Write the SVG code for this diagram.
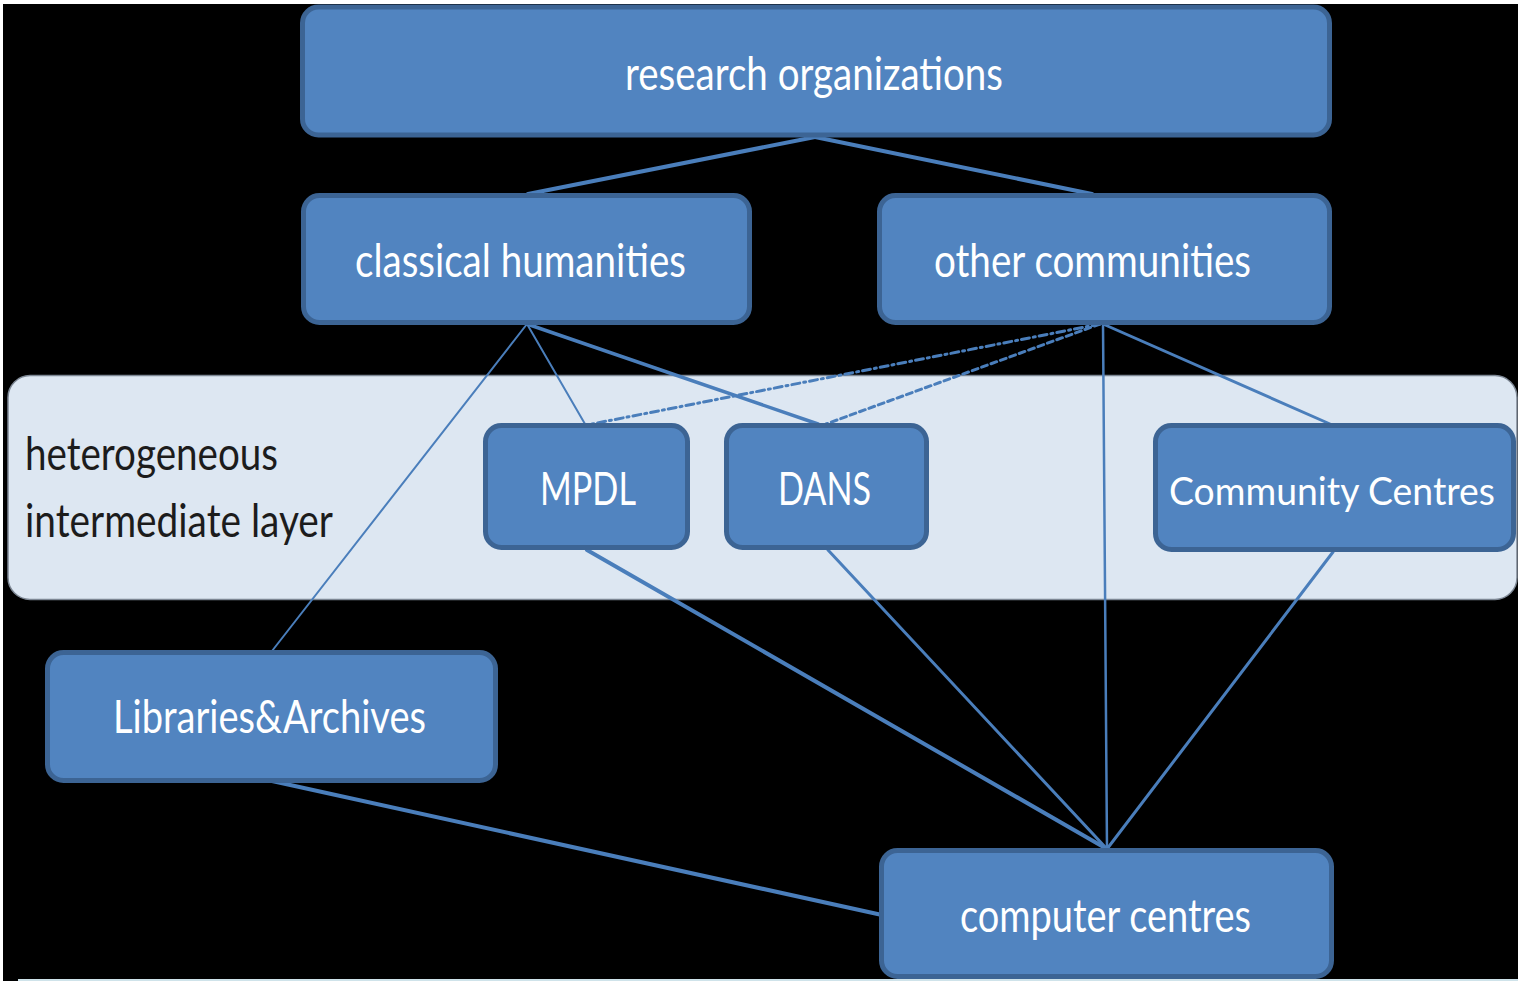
<svg xmlns="http://www.w3.org/2000/svg" width="1518" height="981" viewBox="0 0 1518 981">
  <defs>
    <style>
      .node rect { fill: #5184c0; stroke: #3c6494; stroke-width: 5; }
      .node text { fill: #ffffff; font-family: Lato, "Open Sans", "Liberation Sans", sans-serif; font-size: 46px; text-anchor: middle; }
      .node text.tight { font-size: 39px; }
      .layer-label { fill: #1c1c1c; font-family: Lato, "Open Sans", "Liberation Sans", sans-serif; font-size: 46px; }
      .edge { stroke: #4a7ebb; fill: none; stroke-linecap: round; }
    </style>
  </defs>

  <!-- canvas -->
  <rect x="0" y="0" width="1518" height="981" fill="#000000"/>
  <rect x="0" y="0" width="1518" height="4" fill="#ffffff"/>
  <rect x="0" y="0" width="3" height="981" fill="#ffffff"/>
  <rect x="18" y="979" width="1500" height="2" fill="#cfe3ea"/>

  <!-- intermediate layer band -->
  <g id="intermediate-layer">
    <rect x="8" y="375.5" width="1509" height="224" rx="22" fill="#dde7f2" stroke="#7d8794" stroke-width="1.5"/>
    <text class="layer-label" x="25" y="470" textLength="253" lengthAdjust="spacingAndGlyphs">heterogeneous</text>
    <text class="layer-label" x="25" y="537" textLength="308" lengthAdjust="spacingAndGlyphs">intermediate layer</text>
  </g>

  <!-- connectors -->
  <g id="connectors">
    <line class="edge" x1="815" y1="137" x2="528" y2="194" stroke-width="4"/>
    <line class="edge" x1="815" y1="137" x2="1092" y2="194" stroke-width="4"/>
    <line class="edge" x1="527" y1="324" x2="585" y2="424" stroke-width="2"/>
    <line class="edge" x1="527" y1="324" x2="818" y2="424" stroke-width="3.5"/>
    <line class="edge" x1="527" y1="324" x2="272" y2="651" stroke-width="2"/>
    <line class="edge" x1="1100" y1="324" x2="592" y2="424" stroke-width="3" stroke-dasharray="8 4 2 4" stroke-linecap="butt"/>
    <line class="edge" x1="1100" y1="324" x2="826" y2="424" stroke-width="3" stroke-dasharray="6 4" stroke-linecap="butt"/>
    <line class="edge" x1="1103" y1="324" x2="1107" y2="849" stroke-width="2.5"/>
    <line class="edge" x1="1103" y1="324" x2="1330" y2="424" stroke-width="3"/>
    <line class="edge" x1="587" y1="550" x2="1107" y2="849" stroke-width="4"/>
    <line class="edge" x1="828" y1="550" x2="1107" y2="849" stroke-width="3"/>
    <line class="edge" x1="1333" y1="552" x2="1107" y2="849" stroke-width="3"/>
    <line class="edge" x1="272" y1="781" x2="882" y2="915" stroke-width="4"/>
  </g>

  <!-- nodes -->
  <g id="research-organizations" class="node">
    <rect x="302.5" y="7" width="1027" height="128" rx="16"/>
    <text x="814" y="90" textLength="378" lengthAdjust="spacingAndGlyphs">research organizations</text>
  </g>
  <g id="classical-humanities" class="node">
    <rect x="303.5" y="195.5" width="446" height="127" rx="16"/>
    <text x="520.5" y="277" textLength="331" lengthAdjust="spacingAndGlyphs">classical humanities</text>
  </g>
  <g id="other-communities" class="node">
    <rect x="879.5" y="195.5" width="450" height="127" rx="16"/>
    <text x="1092.5" y="277" textLength="317" lengthAdjust="spacingAndGlyphs">other communities</text>
  </g>
  <g id="mpdl" class="node">
    <rect x="485.5" y="425.5" width="202" height="122" rx="16"/>
    <text x="588" y="505" textLength="96" lengthAdjust="spacingAndGlyphs">MPDL</text>
  </g>
  <g id="dans" class="node">
    <rect x="726.5" y="425.5" width="200" height="122" rx="16"/>
    <text x="824.5" y="505" textLength="93" lengthAdjust="spacingAndGlyphs">DANS</text>
  </g>
  <g id="community-centres" class="node">
    <rect x="1155.5" y="425.5" width="358" height="124" rx="16"/>
    <text class="tight" x="1332" y="505" textLength="326" lengthAdjust="spacingAndGlyphs">Community Centres</text>
  </g>
  <g id="libraries-archives" class="node">
    <rect x="47.5" y="652.5" width="448" height="128" rx="16"/>
    <text x="269.5" y="733" textLength="313" lengthAdjust="spacingAndGlyphs">Libraries&amp;Archives</text>
  </g>
  <g id="computer-centres" class="node">
    <rect x="881.5" y="850.5" width="450" height="126" rx="16"/>
    <text x="1105.5" y="932" textLength="291" lengthAdjust="spacingAndGlyphs">computer centres</text>
  </g>
</svg>
